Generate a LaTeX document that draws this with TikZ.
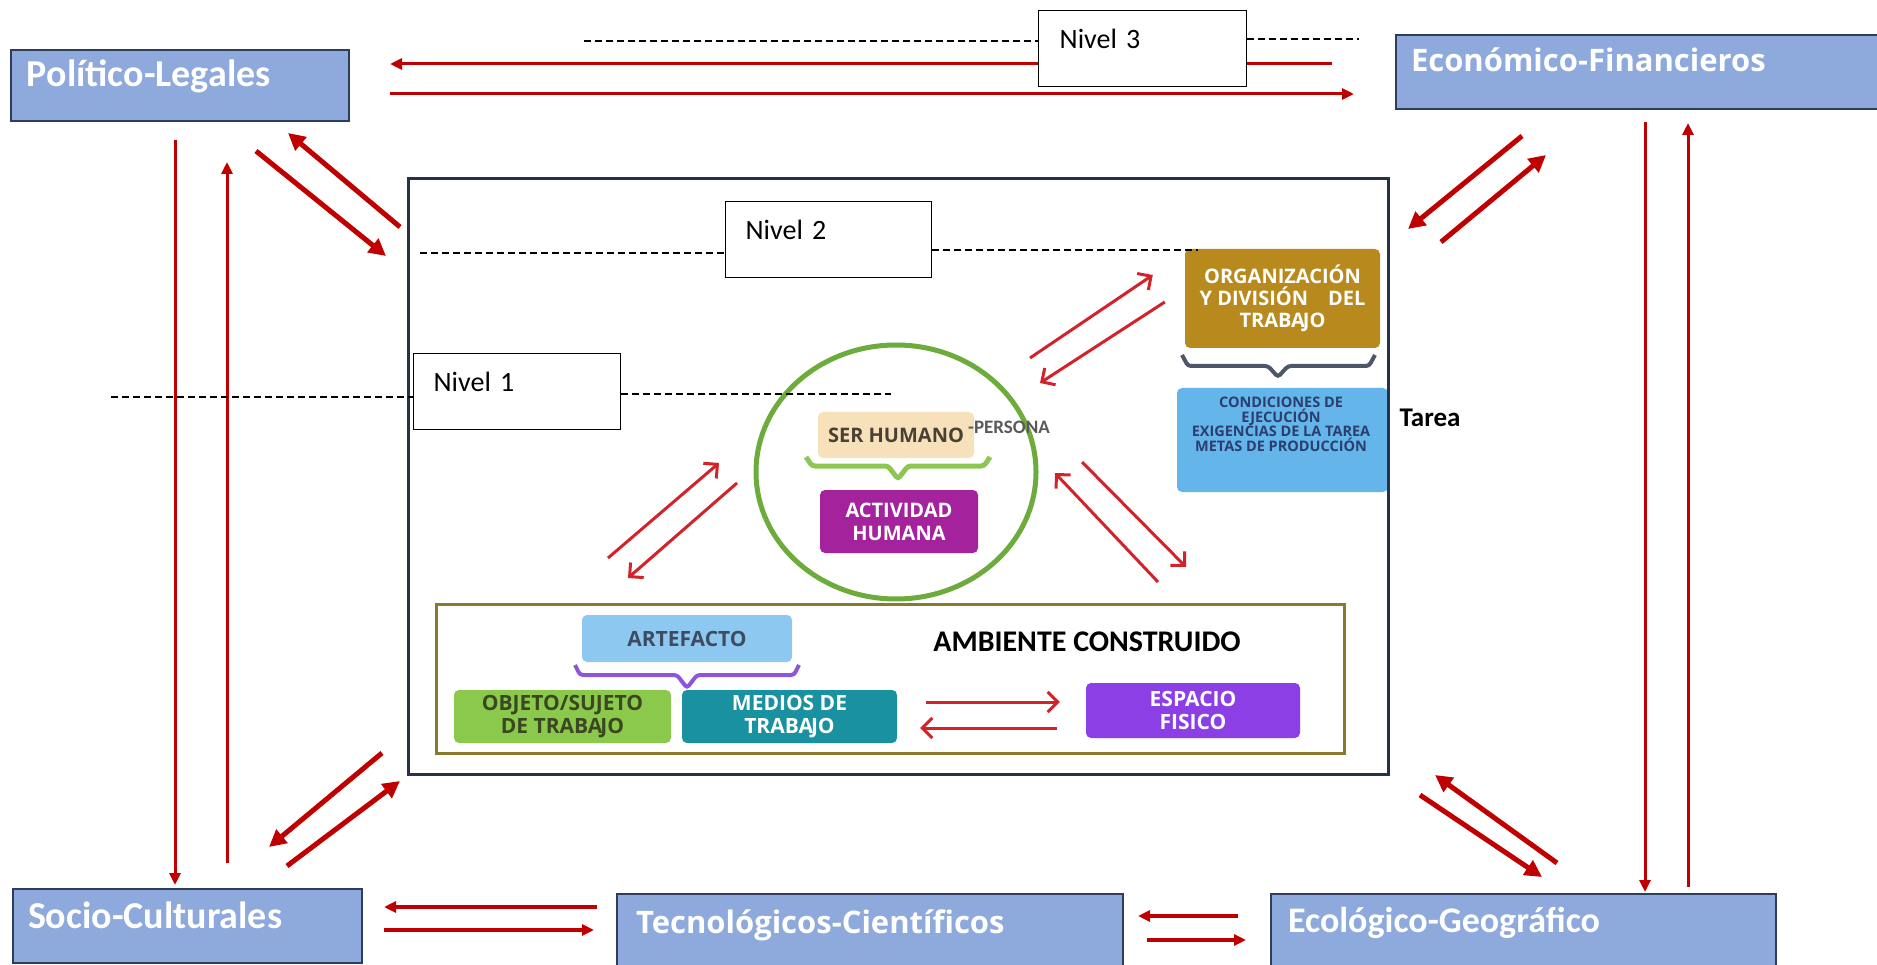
\documentclass[tikz,border=0pt]{standalone}
\usepackage{fontspec}
\setmainfont{Carlito}
\newfontfamily\opensans{Open Sans}
\usetikzlibrary{arrows.meta,shapes.geometric}

\definecolor{rojo}{HTML}{C00000}
\definecolor{rojoclaro}{HTML}{D2232B}
\definecolor{azulbox}{HTML}{8EA9DB}
\definecolor{azulborde}{HTML}{2F3D5C}
\definecolor{marco}{HTML}{26324A}
\definecolor{oliva}{HTML}{8A7A2E}
\definecolor{verde}{HTML}{6CAB3C}
\definecolor{verdellave}{HTML}{8DC653}
\definecolor{beige}{HTML}{F7E1BA}
\definecolor{cafe}{HTML}{4B4034}
\definecolor{magenta2}{HTML}{A4239D}
\definecolor{ocre}{HTML}{B8891D}
\definecolor{llavegris}{HTML}{4D5769}
\definecolor{celeste}{HTML}{63B5EA}
\definecolor{azuloscuro}{HTML}{2B3E6E}
\definecolor{celeste2}{HTML}{8CC8F0}
\definecolor{grisazul}{HTML}{3E4B61}
\definecolor{lila}{HTML}{8E55DA}
\definecolor{verdeobj}{HTML}{8BC94C}
\definecolor{verdeosc}{HTML}{3A4720}
\definecolor{turquesa}{HTML}{1A91A1}
\definecolor{violeta}{HTML}{8B3FE5}
\definecolor{gris}{HTML}{595959}

\begin{document}
\begin{tikzpicture}[x=1pt, y=-1pt,
  factor/.style={draw=azulborde, line width=2pt, fill=azulbox, text=white, anchor=north west, align=left,
    inner ysep=0pt, font=\fontsize{38}{42}\selectfont\bfseries},
  factorb/.style={factor, font=\opensans\fontsize{31}{36}\selectfont\bfseries},
  nivel/.style={draw=black, line width=1.3pt, fill=white, anchor=north west, align=left, inner ysep=0pt,
    text height=38pt, text depth=38pt, font=\fontsize{28}{32}\selectfont},
  flecha/.style={rojo, line width=3pt, -{Triangle[length=12pt,width=11pt]}},
  gruesa/.style={rojo, line width=5pt, -{Triangle[length=17pt,width=17pt]}},
  fina/.style={rojoclaro, line width=3pt, -{Straight Barb[length=10pt,width=20pt]}},
  caja/.style={rounded corners=5pt, inner sep=0pt, align=center, font=\opensans\fontsize{21}{23}\selectfont\bfseries},
  llave/.style={line width=4pt, rounded corners=3pt},
  nivlinea/.style={line width=1.3pt, dash pattern=on 7pt off 4pt}
]
\useasboundingbox (0,0) rectangle (1877,965);

% factores externos
\node[factor, text width=306pt, inner xsep=16pt, text height=37pt, text depth=34pt] (pl) at (10,49) {Político-Legales};
\node[factorb, text width=460pt, inner xsep=15pt, text height=37pt, text depth=37pt] (ef) at (1395,34) {Económico-Financieros};
\node[factor, text width=319pt, inner xsep=15pt, text height=39pt, text depth=35pt] (sc) at (12,888) {Socio-Culturales};
\node[factorb, text width=468pt, inner xsep=19pt, text height=39pt, text depth=50pt] (tc) at (616,893) {Tecnológicos-Científicos};
\node[factor, font=\fontsize{36}{40}\selectfont\bfseries, text width=471pt, inner xsep=17pt, text height=38pt, text depth=60pt] (eg) at (1270,893) {Ecológico-Geográfico};

% sistema de trabajo
\node[draw=oliva, line width=3pt, fill=white, minimum width=908pt, minimum height=149pt, anchor=north west, inner sep=0pt] (amb) at (435,603) {};
\node[font=\fontsize{30}{33}\selectfont\bfseries] (ambtxt) at (1087,642) {AMBIENTE CONSTRUIDO};
\node[ellipse, draw=verde, line width=5pt, minimum width=280pt, minimum height=254pt, inner sep=0pt] (hum) at (896,472) {};
\node[caja, fill=beige, text=cafe, minimum width=156pt, minimum height=46pt, font=\opensans\fontsize{20}{23}\selectfont\bfseries] (ser) at (896,435) {SER HUMANO};
\node[font=\fontsize{19}{22}\selectfont\bfseries, text=gris, anchor=base west, inner sep=0pt] (pers) at (968,433) {-PERSONA};
\draw[llave, verdellave, line width=5pt] (806,457) -- (812,466) -- (888,466) -- (898,479) -- (908,466) -- (984,466) -- (990,457);
\node[caja, fill=magenta2, text=white, minimum width=158pt, minimum height=63pt, font=\opensans\fontsize{20}{23}\selectfont\bfseries] (act) at (899,521.5) {ACTIVIDAD\\HUMANA};

\node[caja, fill=ocre, text=white, minimum width=195pt, minimum height=99pt, font=\opensans\fontsize{20}{22}\selectfont\bfseries] (org) at (1282.5,298.5) {ORGANIZACIÓN\\Y DIVISIÓN\quad DEL\\TRABA\kern-2pt JO};
\draw[llave, llavegris] (1182,355) -- (1188,366) -- (1268,366) -- (1278,377) -- (1288,366) -- (1369,366) -- (1375,355);
\node[caja, fill=celeste, minimum width=211pt, minimum height=104pt] (cond) at (1282.5,440) {};
\node[font=\opensans\fontsize{14.5}{14.5}\selectfont\bfseries, text=azuloscuro, align=center, anchor=north, inner sep=0pt] (condtxt) at (1281,397) {CONDICIONES DE\\EJECUCIÓN\\EXIGENCIAS DE LA TAREA\\METAS DE PRODUCCIÓN};
\node[font=\fontsize{27}{30}\selectfont\bfseries] (tarea) at (1430,418) {Tarea};

\node[caja, fill=celeste2, text=grisazul, minimum width=210pt, minimum height=47pt] (art) at (687,638.5) {ARTEFACTO};
\draw[llave, lila] (575,665) -- (580,675) -- (677,675) -- (687,688) -- (697,675) -- (794,675) -- (799,665);
\node[caja, fill=verdeobj, text=verdeosc, minimum width=217pt, minimum height=53pt] (obj) at (562.5,716.5) {OBJETO/SUJETO\\DE TRABA\kern-2pt JO};
\node[caja, fill=turquesa, text=white, minimum width=215pt, minimum height=53pt] (med) at (789.5,716.5) {MEDIOS DE\\TRABA\kern-2pt JO};
\node[caja, fill=violeta, text=white, minimum width=214pt, minimum height=55pt] (esp) at (1193,710.5) {ESPACIO\\FISICO};

\node[draw=marco, line width=3pt, minimum width=980pt, minimum height=596pt, anchor=north west, inner sep=0pt] (marco) at (407,177) {};

% relaciones internas
\draw[fina] ([shift={(173,-45)}]amb.north west) -- ([shift={(-177,-9)}]hum.center);
\draw[fina] ([shift={(-159,11)}]hum.center) -- ([shift={(193,-25)}]amb.north west);
\draw[fina] ([shift={(134,-114)}]hum.center) -- ([shift={(-32,-23.5)}]org.west);
\draw[fina] ([shift={(-20,3.5)}]org.west) -- ([shift={(144,-89)}]hum.center);
\draw[fina] ([shift={(-188,-21)}]amb.north east) -- ([shift={(159,1)}]hum.center);
\draw[fina] ([shift={(186,-10)}]hum.center) -- ([shift={(-160,-36)}]amb.north east);
\draw[fina, shorten <=29pt, shorten >=26pt] (med.east |- 0,702) -- (esp.west |- 0,702);
\draw[fina, shorten <=29pt, shorten >=23pt] (esp.west |- 0,728) -- (med.east |- 0,728);

% relaciones externas
\draw[flecha, shorten <=63pt, shorten >=40pt] (ef.west |- 0,64) -- (pl.east |- 0,64);
\draw[flecha, shorten <=40pt, shorten >=41pt] (pl.east |- 0,94) -- (ef.west |- 0,94);
\draw[flecha, shorten <=18pt, shorten >=3pt] (pl.south -| 175,0) -- (sc.north -| 175,0);
\draw[flecha, shorten <=25pt, shorten >=40pt] (sc.north -| 227,0) -- (pl.south -| 227,0);
\draw[flecha, shorten <=12pt, shorten >=1pt] (ef.south -| 1645,0) -- (eg.north -| 1645,0);
\draw[flecha, shorten <=6pt, shorten >=13pt] (eg.north -| 1688,0) -- (ef.south -| 1688,0);
\draw[flecha, line width=3.5pt, shorten <=19pt, shorten >=21pt] (tc.west |- 0,907) -- (sc.east |- 0,907);
\draw[flecha, line width=3.5pt, shorten <=21pt, shorten >=22pt] (sc.east |- 0,930) -- (tc.west |- 0,930);
\draw[flecha, line width=3.5pt, shorten <=32pt, shorten >=14pt] (eg.west |- 0,916) -- (tc.east |- 0,916);
\draw[flecha, line width=3.5pt, shorten <=23pt, shorten >=24pt] (tc.east |- 0,940) -- (eg.west |- 0,940);
\draw[gruesa] ([shift={(-7,50)}]marco.north west) -- ([shift={(-62,11)}]pl.south east);
\draw[gruesa] ([shift={(-94,29)}]pl.south east) -- ([shift={(-21,79)}]marco.north west);
\draw[gruesa] ([shift={(127,26)}]ef.south west) -- ([shift={(18,52)}]marco.north east);
\draw[gruesa] ([shift={(51,65)}]marco.north east) -- ([shift={(151,45)}]ef.south west);
\draw[gruesa] ([shift={(287,-30)}]eg.north west) -- ([shift={(45,-1)}]marco.south east);
\draw[gruesa] ([shift={(30,19)}]marco.south east) -- ([shift={(272,-16)}]eg.north west);
\draw[gruesa] ([shift={(-25,-23)}]marco.south west) -- ([shift={(-94,-41)}]sc.north east);
\draw[gruesa] ([shift={(-76,-22)}]sc.north east) -- ([shift={(-7,5)}]marco.south west);

% niveles
\node[nivel, text width=166pt, inner xsep=21pt] (n3) at (1038,10) {Nivel 3};
\node[nivel, text width=166pt, inner xsep=20pt] (n2) at (725,201) {Nivel 2};
\node[nivel, text width=167pt, inner xsep=20pt] (n1) at (413,353) {Nivel 1};
\coordinate (d3a) at (584,41);  \coordinate (d3b) at (1359,39);
\coordinate (d2a) at (420,253); \coordinate (d2b) at (1198,250);
\coordinate (d1a) at (111,397); \coordinate (d1b) at (891,394);
\draw[nivlinea] (d3a) -- (d3a -| n3.west) (n3.east |- d3b) -- (d3b);
\draw[nivlinea] (d2a) -- (d2a -| n2.west) (n2.east |- d2b) -- (d2b);
\draw[nivlinea] (d1a) -- (d1a -| n1.west) (n1.east |- d1b) -- (d1b);
\end{tikzpicture}
\end{document}
